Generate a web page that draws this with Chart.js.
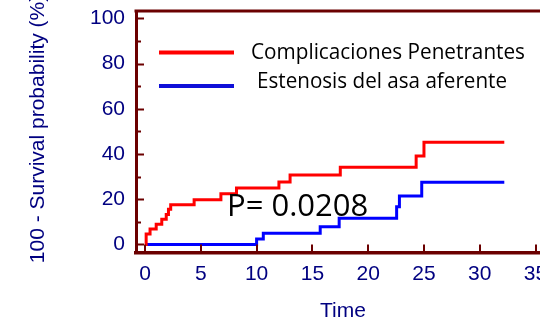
<!DOCTYPE html>
<html lang="es">
<head>
    <meta charset="UTF-8">
    <title>Survival</title>
    <script src="https://cdn.jsdelivr.net/npm/chart.js"></script>
    <style>
        html, body { margin: 0; padding: 0; background: #fff; overflow: hidden; }
        #wrap { width: 540px; height: 323px; }
    </style>
</head>
<body>
    <div id="wrap"><canvas id="km" width="540" height="323"></canvas></div>

    <script>
        // Kaplan-Meier style step data (time, 100 - survival %)
        const penTimes  = [0, 0.1, 0.45, 1.0, 1.5, 1.9, 2.1, 2.3, 4.4, 6.8, 8.2, 12.0, 13.0, 17.5, 24.3, 25.0, 32.2];
        const penValues = [0, 4.6, 6.9, 9.0, 11.2, 13.3, 15.6, 17.6, 19.8, 22.5, 25.0, 27.7, 30.8, 34.2, 39.2, 45.2, 45.2];

        const estTimes  = [0, 10.0, 10.6, 15.7, 17.4, 22.55, 22.8, 24.8, 32.2];
        const estValues = [0, 2.4, 5.0, 7.9, 11.6, 16.7, 21.5, 27.5, 27.5];

        const seriesNames = ['Complicaciones Penetrantes', 'Estenosis del asa aferente'];
        const pText = 'P= 0.0208';
        const xTitle = 'Time';
        const yTitle = '100 - Survival probability (%)';

        const axisColor = '#6b0000';
        const labelColor = '#000080';

        const toPoints = (xs, ys) => xs.map((t, i) => ({ x: t, y: ys[i] }));

        // inside tick marks, top frame line, legend, titles and p-value
        const decor = {
            id: 'decor',
            afterDraw(chart) {
                const { ctx, chartArea: a, scales: { x, y } } = chart;
                ctx.save();
                ctx.strokeStyle = axisColor;

                ctx.lineWidth = 3;
                ctx.beginPath();
                ctx.moveTo(a.left - 1.5, a.top);
                ctx.lineTo(a.right, a.top);
                ctx.stroke();

                ctx.lineWidth = 2;
                x.ticks.forEach(t => {
                    const px = Math.round(x.getPixelForValue(t.value));
                    ctx.beginPath();
                    ctx.moveTo(px, a.bottom);
                    ctx.lineTo(px, a.bottom - 8);
                    ctx.stroke();
                });
                y.ticks.forEach(t => {
                    const py = Math.round(y.getPixelForValue(t.value)) + 0.5;
                    const len = t.value % 20 === 0 ? 8 : 5;
                    ctx.beginPath();
                    ctx.moveTo(a.left, py);
                    ctx.lineTo(a.left + len, py);
                    ctx.stroke();
                });

                // legend
                const ds = chart.data.datasets;
                ctx.lineWidth = 4;
                ctx.strokeStyle = ds[0].borderColor;
                ctx.beginPath(); ctx.moveTo(159, 52.5); ctx.lineTo(234, 52.5); ctx.stroke();
                ctx.strokeStyle = '#1010d8';
                ctx.beginPath(); ctx.moveTo(159, 86); ctx.lineTo(234, 86); ctx.stroke();

                ctx.fillStyle = '#000';
                ctx.textBaseline = 'alphabetic';
                ctx.textAlign = 'left';
                ctx.font = '22px "Open Sans"';
                ctx.fillText(ds[0].label, 251, 58.5, 274);
                ctx.fillText(ds[1].label, 257, 87.5, 250);

                ctx.font = '31px "Open Sans"';
                ctx.fillText(pText, 227, 216, 146);

                // axis titles
                ctx.fillStyle = labelColor;
                ctx.font = '21px "Liberation Sans"';
                ctx.textAlign = 'center';
                ctx.textBaseline = 'middle';
                ctx.fillText(xTitle, 343, 311);

                ctx.translate(38.5, 129);
                ctx.rotate(-Math.PI / 2);
                ctx.fillText(yTitle, 0, 0);
                ctx.restore();
            }
        };

        new Chart(document.getElementById('km'), {
            type: 'line',
            data: {
                datasets: [{
                    label: seriesNames[0],
                    data: toPoints(penTimes, penValues),
                    borderColor: '#ff0000',
                    borderWidth: 3,
                    stepped: 'before',
                    pointRadius: 0,
                    fill: false
                }, {
                    label: seriesNames[1],
                    data: toPoints(estTimes, estValues),
                    borderColor: '#0000ff',
                    borderWidth: 3,
                    stepped: 'before',
                    pointRadius: 0,
                    fill: false
                }]
            },
            options: {
                responsive: false,
                animation: false,
                layout: { padding: { left: 0, right: 0, top: 11, bottom: 0 } },
                plugins: {
                    legend: { display: false },
                    tooltip: { enabled: false }
                },
                scales: {
                    x: {
                        type: 'linear',
                        min: -0.81,
                        max: 35.4,
                        grid: { display: false, drawTicks: false },
                        border: { display: true, color: axisColor, width: 3.5 },
                        ticks: {
                            stepSize: 5,
                            includeBounds: false,
                            padding: 9,
                            color: labelColor,
                            maxRotation: 0,
                            autoSkip: false,
                            font: { family: 'Liberation Sans', size: 21 }
                        },
                        afterFit(scale) {
                            scale.height = 70.5;
                            scale.paddingLeft = 0;
                            scale.paddingRight = 0;
                        }
                    },
                    y: {
                        min: -3.54,
                        max: 103.3,
                        grid: { display: false, drawTicks: false },
                        border: { display: true, color: axisColor, width: 3 },
                        ticks: {
                            stepSize: 10,
                            includeBounds: false,
                            padding: 11,
                            color: labelColor,
                            autoSkip: false,
                            font: { family: 'Liberation Sans', size: 21 },
                            callback: v => (v % 20 === 0 ? v : '')
                        },
                        afterFit(scale) {
                            scale.width = 136;
                            scale.paddingTop = 0;
                            scale.paddingBottom = 0;
                        }
                    }
                }
            },
            plugins: [decor]
        });
    </script>
</body>
</html>
